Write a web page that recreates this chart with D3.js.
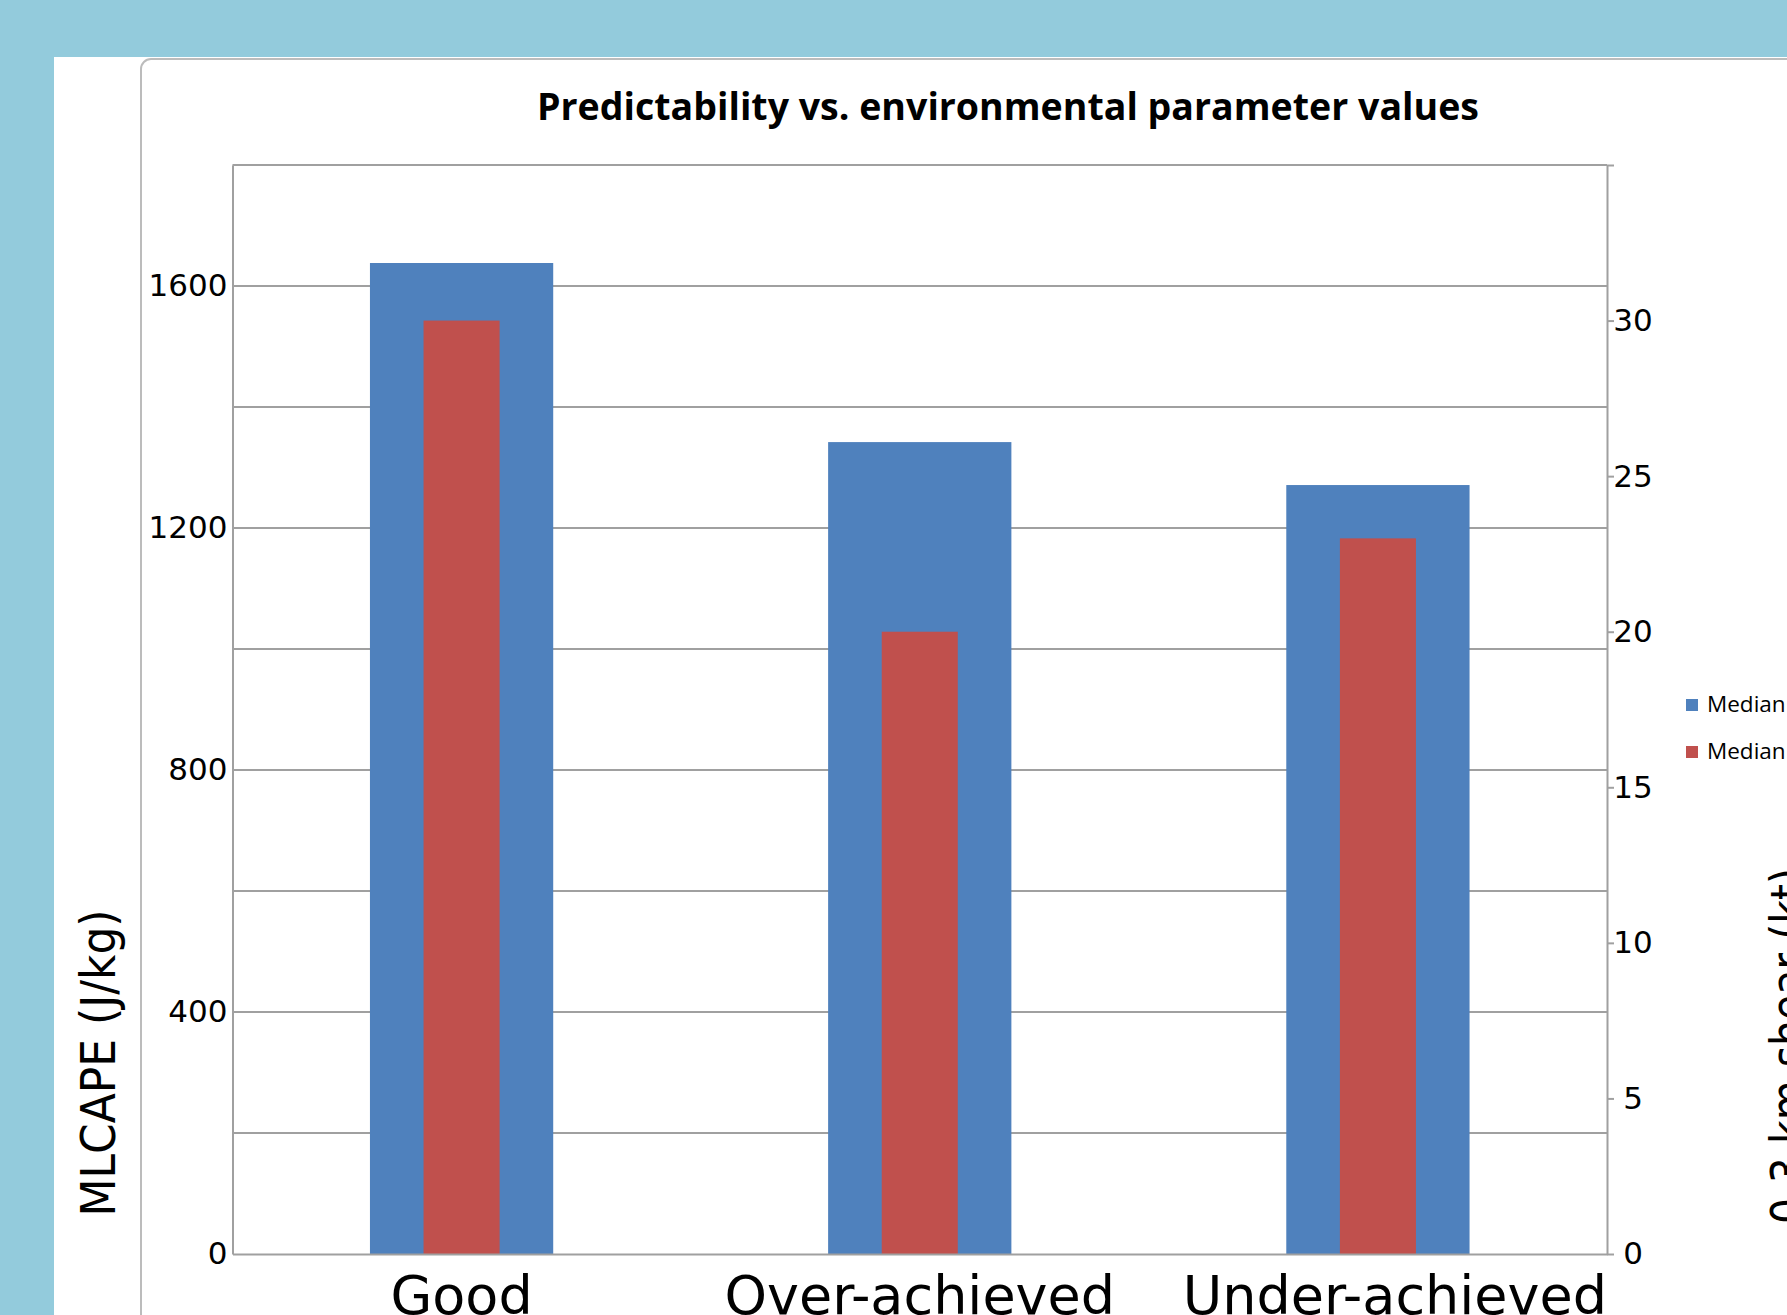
<!DOCTYPE html>
<html>
<head>
<meta charset="utf-8">
<script src="https://cdn.jsdelivr.net/npm/d3@7"></script>
<style>
  body { margin: 0; overflow: hidden; background: #93cbdc; }
  svg { display: block; }
</style>
</head>
<body>
<div id="chart"></div>
<script>
var categories = ["Good", "Over-achieved", "Under-achieved"];
var capeValues = [1638, 1342, 1271];
var shearValues = [30.0, 20.0, 23.0];
var capeTicks = [0, 400, 800, 1200, 1600];
var capeGrid = [200, 400, 600, 800, 1000, 1200, 1400, 1600];
var shearTicks = [0, 5, 10, 15, 20, 25, 30, 35];
var legendLabels = ["Median", "Median"];
var seriesColors = ["#4f81bd", "#c0504d"];

var width = 1787,
    height = 1315,
    plotLeft = 232.5,
    plotRight = 1607,
    plotTop = 165,
    plotBottom = 1254,
    gridColor = "#a0a0a0",
    font = "'DejaVu Sans', Verdana, sans-serif";

var svg = d3.select("#chart")
  .append("svg")
  .attr("width", width)
  .attr("height", height);

// slide background + chart frame
svg.append("rect")
  .attr("x", 0).attr("y", 0)
  .attr("width", width).attr("height", height)
  .attr("fill", "#93cbdc");
svg.append("rect")
  .attr("x", 54).attr("y", 57)
  .attr("width", width).attr("height", height)
  .attr("fill", "#fff");
svg.append("rect")
  .attr("x", 141).attr("y", 59)
  .attr("rx", 10)
  .attr("width", width).attr("height", height)
  .attr("fill", "#fff")
  .attr("stroke", "#bcbcbc")
  .attr("stroke-width", 2);

var x = d3.scaleBand()
  .domain(categories)
  .range([plotLeft, plotRight])
  .padding(0);

var yLeft = d3.scaleLinear().domain([0, 1800]).range([plotBottom, plotTop]);
var yRight = d3.scaleLinear().domain([0, 35]).range([plotBottom, plotTop]);

// gridlines
svg.append("g")
  .selectAll("line")
  .data(capeGrid)
  .enter()
  .append("line")
  .attr("x1", plotLeft).attr("x2", plotRight)
  .attr("y1", function(d){ return yLeft(d); })
  .attr("y2", function(d){ return yLeft(d); })
  .attr("stroke", gridColor)
  .attr("stroke-width", 2);

// plot top border
svg.append("line")
  .attr("x1", plotLeft).attr("x2", plotRight)
  .attr("y1", plotTop).attr("y2", plotTop)
  .attr("stroke", gridColor)
  .attr("stroke-width", 2);

// blue bars (MLCAPE, left axis)
var bw = x.bandwidth();
svg.append("g")
  .selectAll("rect")
  .data(capeValues)
  .enter()
  .append("rect")
  .attr("x", function(d, i){ return x(categories[i]) + bw * 0.3; })
  .attr("width", bw * 0.4)
  .attr("y", function(d){ return yLeft(d); })
  .attr("height", function(d){ return plotBottom - yLeft(d); })
  .attr("fill", seriesColors[0]);

// red bars (shear, right axis)
svg.append("g")
  .selectAll("rect")
  .data(shearValues)
  .enter()
  .append("rect")
  .attr("x", function(d, i){ return x(categories[i]) + bw * (1 - 0.166) / 2; })
  .attr("width", bw * 0.166)
  .attr("y", function(d){ return yRight(d); })
  .attr("height", function(d){ return plotBottom - yRight(d); })
  .attr("fill", seriesColors[1]);

// left axis
var leftAxis = svg.append("g")
  .attr("transform", "translate(" + plotLeft + ",0)")
  .call(d3.axisLeft(yLeft).tickValues(capeTicks).tickFormat(d3.format("d"))
    .tickSize(0).tickSizeOuter(0).tickPadding(5));
leftAxis.select(".domain").attr("stroke", gridColor).attr("stroke-width", 2);
leftAxis.selectAll("text")
  .attr("font-family", font)
  .attr("font-size", 31)
  .attr("fill", "#000");

// right axis
var rightAxis = svg.append("g")
  .attr("transform", "translate(" + plotRight + ",0)")
  .call(d3.axisRight(yRight).tickValues(shearTicks).tickSize(7).tickSizeOuter(0)
    .tickFormat(function(d){ return d === 35 ? "" : d; }));
rightAxis.select(".domain").attr("stroke", gridColor).attr("stroke-width", 2);
rightAxis.selectAll(".tick line").attr("stroke", gridColor).attr("stroke-width", 2);
rightAxis.selectAll("text")
  .attr("x", 26)
  .attr("text-anchor", "middle")
  .attr("font-family", font)
  .attr("font-size", 31)
  .attr("fill", "#000");

// bottom axis
var bottomAxis = svg.append("g")
  .attr("transform", "translate(0," + plotBottom + ")")
  .call(d3.axisBottom(x).tickSize(0).tickSizeOuter(0));
bottomAxis.select(".domain").attr("stroke", gridColor).attr("stroke-width", 2);
bottomAxis.selectAll("text")
  .attr("y", 60)
  .attr("dy", 0)
  .attr("font-family", font)
  .attr("font-size", 54)
  .attr("fill", "#000")
  .each(function(d, i){
    // last label sits flush with the plot's right edge, as in the original
    if (i === categories.length - 1) {
      var len = this.getComputedTextLength();
      var center = x(d) + bw / 2;
      d3.select(this).attr("dx", plotRight - (center + len / 2));
    }
  });

// title
svg.append("text")
  .attr("x", 1008)
  .attr("y", 120)
  .attr("text-anchor", "middle")
  .attr("font-family", "'Liberation Sans Narrow', 'Open Sans', sans-serif")
  .attr("font-weight", "bold")
  .attr("font-size", 38)
  .attr("textLength", 942)
  .attr("lengthAdjust", "spacingAndGlyphs")
  .text("Predictability vs. environmental parameter values");

// axis titles
svg.append("text")
  .attr("transform", "translate(115,1063) rotate(-90)")
  .attr("text-anchor", "middle")
  .attr("font-family", font)
  .attr("font-size", 48)
  .attr("textLength", 307)
  .attr("lengthAdjust", "spacingAndGlyphs")
  .text("MLCAPE (J/kg)");

svg.append("text")
  .attr("transform", "translate(1805,1046) rotate(-90)")
  .attr("text-anchor", "middle")
  .attr("font-family", font)
  .attr("font-size", 48)
  .attr("textLength", 356)
  .attr("lengthAdjust", "spacingAndGlyphs")
  .text("0-3 km shear (kt)");

// legend
var legend = svg.append("g")
  .selectAll("g")
  .data(legendLabels)
  .enter()
  .append("g")
  .attr("transform", function(d, i){ return "translate(1686," + (699 + i * 47) + ")"; });
legend.append("rect")
  .attr("width", 12).attr("height", 12)
  .attr("fill", function(d, i){ return seriesColors[i]; });
legend.append("text")
  .attr("x", 21)
  .attr("y", 13)
  .attr("font-family", "'Open Sans', sans-serif")
  .attr("font-size", 22.5)
  .attr("fill", "#000")
  .text(function(d){ return d; });
</script>
</body>
</html>
